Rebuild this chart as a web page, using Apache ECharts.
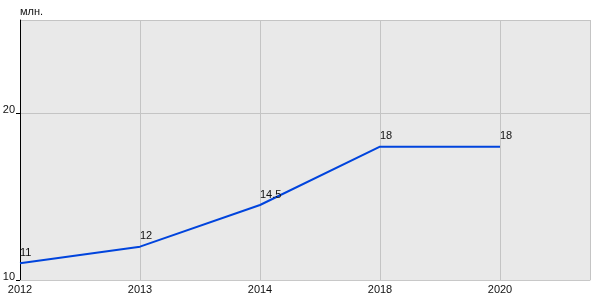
<!DOCTYPE html>
<html><head><meta charset="utf-8">
<script src="https://cdn.jsdelivr.net/npm/echarts@6/dist/echarts.min.js"></script>
<style>html,body{margin:0;padding:0;background:#fff}#c{width:600px;height:300px}</style>
</head><body><div id="c"></div>
<script>
const categories = ['2012', '2013', '2014', '2018', '2020'];
const values = [11, 12, 14.5, 18, 18];
const labels = ['11', '12', '14.5', '18', '18'];
const yTicks = [10, 20];

const chart = echarts.init(document.getElementById('c'));
chart.setOption({
  animation: false,
  textStyle: { fontFamily: 'Liberation Sans, Arial, sans-serif' },
  grid: { left: 20, right: 10, top: 20, bottom: 20, show: true, backgroundColor: '#e9e9e9', borderWidth: 0,
    containLabel: false, outerBoundsMode: 'none' },
  xAxis: {
    type: 'value', min: 0, max: 4.75, interval: 1,
    axisLine: { show: true, lineStyle: { color: '#c8c8c8' } },
    axisTick: { show: false },
    axisLabel: { color: '#111', fontSize: 11, margin: 4, showMaxLabel: false,
      formatter: v => categories[v] !== undefined ? categories[v] : '' },
    splitLine: { show: true, lineStyle: { color: '#c4c4c4', width: 1 } }
  },
  yAxis: {
    type: 'value', min: 10, max: 25.6, interval: 10,
    name: 'млн.', nameLocation: 'end', nameGap: 3,
    nameTextStyle: { color: '#111', fontSize: 11, align: 'left' },
    axisLine: { show: true, lineStyle: { color: '#000' } },
    axisTick: { show: true, length: 4, lineStyle: { color: '#000' } },
    axisLabel: { color: '#111', fontSize: 11, margin: 5, showMaxLabel: false, verticalAlign: 'bottom', lineHeight: 6,
      formatter: v => yTicks.indexOf(v) >= 0 ? String(v) : '' },
    splitLine: { show: true, lineStyle: { color: '#c4c4c4', width: 1 } }
  },
  series: [{
    type: 'line',
    data: values.map((v, i) => [i, v]),
    showSymbol: true, symbol: 'circle', symbolSize: 0.01,
    lineStyle: { color: '#0044dd', width: 2 },
    itemStyle: { color: '#0044dd' },
    label: { show: true, position: 'top', align: 'left', distance: 5, color: '#111', fontSize: 11,
      formatter: p => labels[p.dataIndex] }
  }]
});
</script></body></html>
